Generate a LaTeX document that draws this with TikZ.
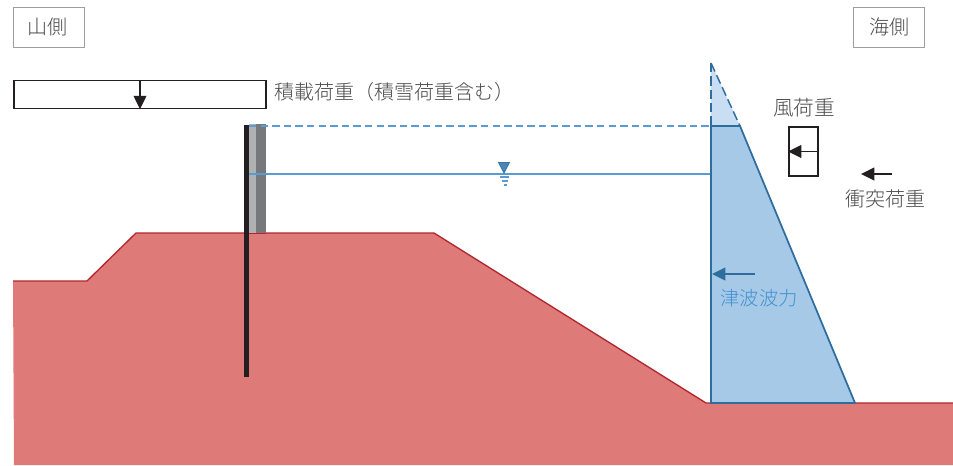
\documentclass[tikz,border=0pt]{standalone}
\usepackage{fontspec}
\setmainfont{Noto Sans CJK JP Light}
\usetikzlibrary{arrows.meta}
\definecolor{groundfill}{HTML}{DE7A78}
\definecolor{groundline}{HTML}{B3262D}
\definecolor{waterline}{HTML}{5B9BD5}
\definecolor{forceline}{HTML}{2E6D9E}
\definecolor{forcefill}{HTML}{A6C9E8}
\definecolor{forcelight}{HTML}{C9DEF2}
\definecolor{forcetext}{HTML}{4090D0}
\definecolor{inktext}{HTML}{4A4A4A}
\definecolor{ink}{HTML}{231F20}
\definecolor{walllight}{HTML}{B0B1B3}
\definecolor{walldark}{HTML}{77787B}
\tikzset{
  lbl/.style={font=\fontsize{15pt}{17pt}\selectfont, text=inktext, inner sep=0pt},
  sidebox/.style={draw=black!38, line width=1pt, fill=white, minimum width=53pt, minimum height=30pt, inner sep=0pt},
  blackarrow/.style={draw=ink, line width=1.2pt, -{Triangle[length=10pt,width=9.5pt]}},
  bluearrow/.style={draw=forceline, line width=1.2pt, -{Triangle[length=10pt,width=9.5pt]}},
  loadbox/.style={draw=ink, line width=1.25pt, fill=white},
}
\begin{document}
\begin{tikzpicture}[x=0.75pt,y=-0.75pt]
\useasboundingbox (0,0) rectangle (953,465);
% ground
\fill[groundfill] (13,281) -- (87,281) -- (136,233) -- (434,233) -- (706,403) -- (953,403) -- (953,465) -- (14,465) -- cycle;
\draw[groundline, line width=1pt] (13,281) -- (87,281) -- (136,233) -- (434,233) -- (706,403) -- (953,403);
% wall
\fill[walllight] (249,124) rectangle (256,234);
\fill[walldark] (256,124) rectangle (266,234);
\draw[groundline, line width=1pt] (249,233.5) -- (266,233.5);
\fill[ink] (244,125) rectangle (249,377);
% water levels
\coordinate (wtop) at (249,126);
\coordinate (wmid) at (249,174);
\coordinate (ptop) at (711,126);
\coordinate (pmid) at (711,174);
% tsunami pressure
\fill[forcelight] (711,63) -- (740,126) -- (711,126) -- cycle;
\fill[forcefill] (711,126) -- (740,126) -- (855,403) -- (711,403) -- cycle;
\draw[waterline, line width=1pt, dash pattern=on 5.5pt off 3.2pt] (wtop) -- (ptop);
\draw[waterline, line width=1pt] (wmid) -- (pmid);
\draw[forceline, line width=1.1pt, dash pattern=on 7pt off 3pt] (711,63) -- (ptop);
\draw[forceline, line width=1.1pt, dash pattern=on 7pt off 3pt] (711,63) -- (740,126);
\draw[forceline, line width=1.3pt] (711,126) -- (740,126) -- (855,403) -- (711,403) -- cycle;
% water symbol
\fill[waterline!85!black, draw=forceline!80!waterline, line width=0.6pt] (498.5,162.5) -- (509.5,162.5) -- (504,173) -- cycle;
\draw[waterline, line width=1pt] (499.5,177) -- (509,177) (502,181) -- (507.5,181) (504,185) -- (506.5,185);
% side labels
\node[sidebox] (mt) at (49,27.5) {};
\node[lbl] at (47,26.5) {山側};
\node[sidebox] (sea) at (889,27.5) {};
\node[lbl] at (889,26.5) {海側};
% load
\node[loadbox, minimum width=189pt, minimum height=20.8pt, inner sep=0pt] (load) at (140,94.5) {};
\draw[blackarrow] (load.north) -- (load.south);
\node[lbl, anchor=west] (loadt) at (274.5,92) {積載荷重（積雪荷重含む）};
% wind
\node[lbl, font=\fontsize{15.5pt}{17pt}\selectfont] (windt) at (804,107.5) {風荷重};
\node[loadbox, fill=none, minimum width=22pt, minimum height=37pt, inner sep=0pt] (wind) at (803.5,151.5) {};
\draw[blackarrow] (wind.east) -- (wind.west);
% impact
\coordinate (impR) at (892,174);
\coordinate (impL) at (861,174);
\draw[blackarrow] (impR) -- (impL);
\node[lbl] (impt) at (885,199) {衝突荷重};
% tsunami force
\coordinate (tsuR) at (755,274);
\coordinate (tsuL) at (712,274);
\draw[bluearrow] (tsuR) -- (tsuL);
\node[lbl, font=\fontsize{14.5pt}{17pt}\selectfont, text=forcetext] (tsut) at (759,298) {津波波力};
\end{tikzpicture}
\end{document}
